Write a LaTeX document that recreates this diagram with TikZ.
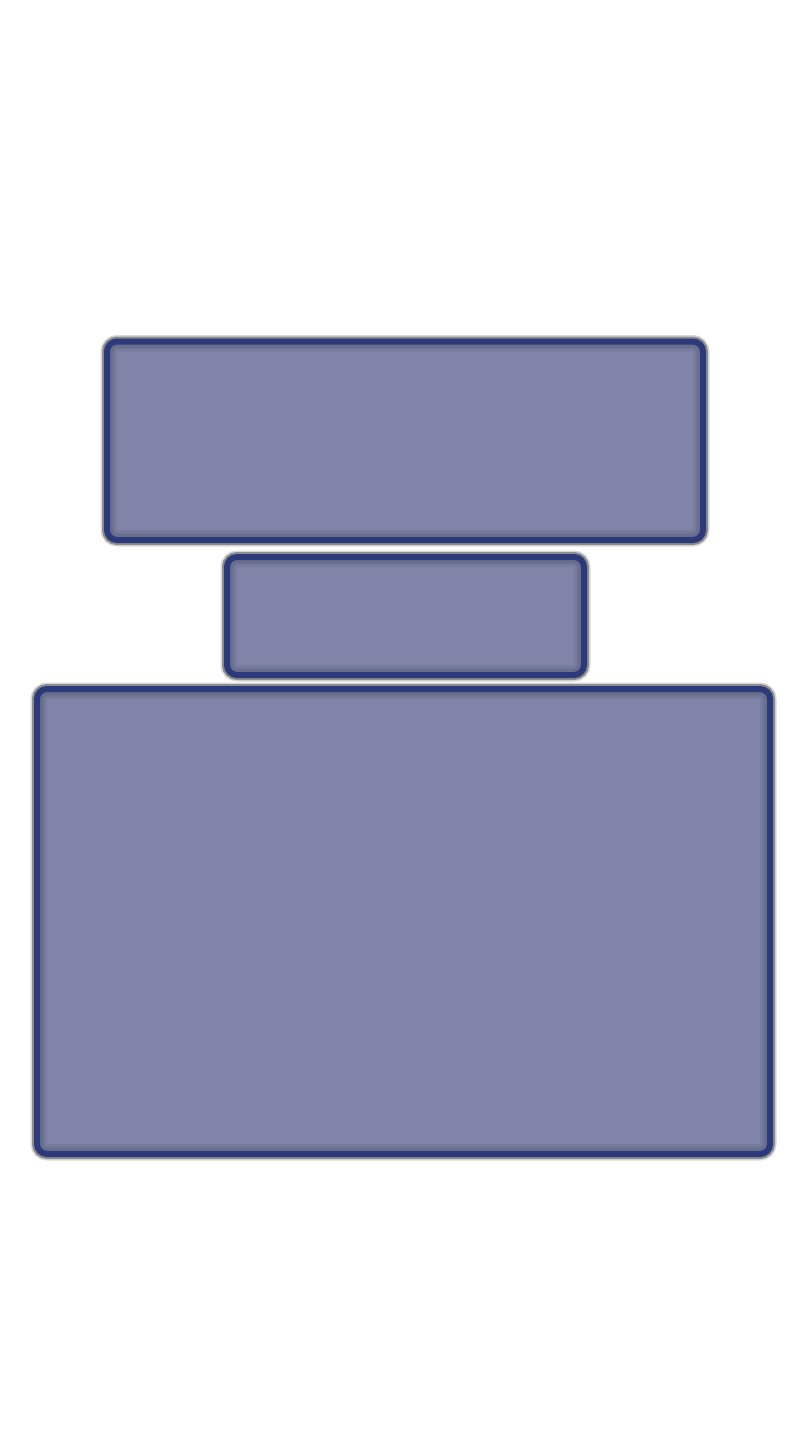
\documentclass[tikz,border=0pt]{standalone}
\definecolor{boxfill}{HTML}{7F84A8}
\definecolor{boxline}{HTML}{2C3A7C}
\begin{document}
\begin{tikzpicture}[x=0.5pt,y=-0.5pt,
  box/.style={draw=boxline, line width=3pt, fill=boxfill, rounded corners=5pt, inner sep=0pt,
    preaction={draw=black, draw opacity=0.15, line width=6.5pt},
    preaction={draw=black, draw opacity=0.35, line width=5pt},
    path picture={
      \draw[black, opacity=0.05, line width=10pt]
        (path picture bounding box.south west) rectangle (path picture bounding box.north east);
      \draw[black, opacity=0.06, line width=7.5pt]
        (path picture bounding box.south west) rectangle (path picture bounding box.north east);
      \draw[black, opacity=0.06, line width=6pt]
        (path picture bounding box.south west) rectangle (path picture bounding box.north east);}}]
\useasboundingbox (0,0) rectangle (810,1440);
\fill[white] (0,0) rectangle (810,1440);
\node[box, minimum width=298pt, minimum height=99.25pt] (top) at (405,440.75) {};
\node[box, minimum width=178.5pt, minimum height=59pt] (mid) at (405.5,616) {};
\node[box, minimum width=366.5pt, minimum height=232.5pt] (bot) at (403.5,921.5) {};
\end{tikzpicture}
\end{document}
